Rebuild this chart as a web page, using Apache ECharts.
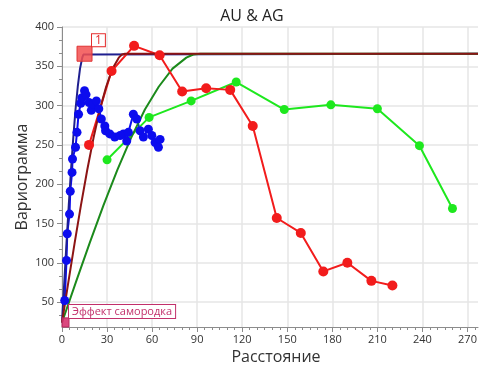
<!DOCTYPE html>
<html>
<head>
<meta charset="utf-8">
<script src="https://cdn.jsdelivr.net/npm/echarts@6/dist/echarts.min.js"></script>
<style>
  html, body { margin: 0; padding: 0; background: #fff; }
  #chart { width: 480px; height: 370px; }
</style>
</head>
<body>
<div id="chart"></div>
<script>
// Axis tick values
const xMajorTicks = [0, 30, 60, 90, 120, 150, 180, 210, 240, 270];
const xMinorTicks = [5, 10, 15, 20, 25, 35, 40, 45, 50, 55, 65, 70, 75, 80, 85, 95, 100, 105, 110, 115,
  125, 130, 135, 140, 145, 155, 160, 165, 170, 175, 185, 190, 195, 200, 205, 215, 220, 225, 230, 235,
  245, 250, 255, 260, 265, 275];
const yMajorTicks = [50, 100, 150, 200, 250, 300, 350, 400];
const yMinorTicks = [33.3, 66.7, 83.3, 116.7, 133.3, 166.7, 183.3, 216.7, 233.3, 266.7, 283.3,
  316.7, 333.3, 366.7, 383.3];

// Experimental variograms [lag, gamma]
const blueExperimental = [
  [1.8, 52], [3, 103], [3.5, 137], [5, 162], [5.5, 191], [6.7, 215], [7, 232], [9, 247], [10, 266],
  [11, 289], [12.5, 303], [13.3, 310], [15, 319], [16, 314], [18, 304], [19.5, 294], [20.7, 302],
  [22.9, 306], [24.5, 296], [26.2, 283], [28.5, 274], [29, 268], [31.8, 264], [35.1, 260],
  [38.7, 262], [40.9, 264], [43.1, 255], [44.2, 266], [47.5, 289], [49.8, 283], [52, 268],
  [54.2, 260], [57.5, 270], [59.8, 262], [62, 253], [64.2, 247], [65.3, 257]
];
const greenExperimental = [
  [30, 231], [58, 285], [86, 306], [116, 330], [148, 295], [179, 301], [210, 296], [238, 249], [260, 169]
];
const redExperimental = [
  [18, 250], [33, 344], [48, 376], [65, 364], [80, 318], [96, 322], [112, 320], [127, 274],
  [143, 157], [159, 138], [174, 89], [190, 100], [206, 77], [220, 71]
];

// Fitted models [lag, gamma]
const navyModel = [
  [0, 24], [1.5, 75], [3, 125], [4.5, 173], [6, 218], [7.5, 259], [9, 295], [10.5, 324],
  [12, 347], [13.5, 361], [14.25, 365], [15, 366], [277, 366]
];
const darkRedModel = [
  [0, 24], [4.2, 75], [8.4, 125], [12.6, 173], [16.8, 218], [21, 259], [25.2, 295], [29.4, 324],
  [33.6, 347], [37.8, 361], [39.9, 365], [42, 366], [277, 366]
];
const darkGreenModel = [
  [0, 24], [9.2, 75], [18.4, 125], [27.6, 173], [36.8, 218], [46, 259], [55.2, 295], [64.4, 324],
  [73.6, 347], [82.8, 361], [87.4, 365], [92, 366], [277, 366]
];

// Annotated points: nugget effect and range of model 1
const markerPoints = [[0, 21], [15, 366]];
const markerLabels = ['Эффект самородка', '1'];

const FONT = '"Open Sans", "Noto Sans", sans-serif';
const axisGrey = '#8c8c8c';
const gridGrey = '#e6e6e6';

const markerStyles = [
  { size: 14, fill: 'rgba(214,52,112,0.9)', stroke: '#b42a5e', text: '#c2306b', border: '#c2306b', fontSize: 11, padding: [1, 3] },
  { size: 15, fill: 'rgba(242,80,80,0.85)', stroke: '#e03434', text: '#e52b2b', border: '#e52b2b', fontSize: 12, padding: [0, 3] }
];

const chart = echarts.init(document.getElementById('chart'), null, { renderer: 'canvas' });

function lineSeries(data, color, withSymbols, size) {
  return {
    type: 'line',
    data: data,
    xAxisIndex: 0,
    yAxisIndex: 0,
    showSymbol: withSymbols,
    symbol: 'circle',
    symbolSize: size || 9,
    itemStyle: { color: color },
    lineStyle: { color: color, width: 2 },
    emphasis: { disabled: true },
    animation: false
  };
}

chart.setOption({
  animation: false,
  graphic: [{
    type: 'text',
    x: 252,
    y: 16,
    style: { text: 'AU & AG', font: '16px ' + FONT, fill: '#222', align: 'center', verticalAlign: 'middle' }
  }],
  grid: { left: 62, right: 2, top: 27, bottom: 42, containLabel: false },
  xAxis: [{
    type: 'value', min: 0, max: 277,
    name: 'Расстояние', nameLocation: 'middle', nameGap: 22, nameMoveOverlap: false,
    nameTextStyle: { fontSize: 16, color: '#333', fontFamily: FONT, padding: [0, 0, 0, 12] },
    axisLine: { show: true, onZero: false, lineStyle: { color: axisGrey, width: 1 } },
    axisTick: { show: true, customValues: xMajorTicks, length: 5, lineStyle: { color: axisGrey } },
    axisLabel: { customValues: xMajorTicks, color: '#333', fontSize: 11, fontFamily: FONT, margin: 7 },
    splitLine: { show: true, lineStyle: { color: gridGrey, width: 1.5 } }
  }, {
    type: 'value', min: 0, max: 277, position: 'bottom',
    axisLine: { show: false },
    axisTick: { show: true, customValues: xMinorTicks, length: 3, lineStyle: { color: axisGrey } },
    axisLabel: { show: false },
    splitLine: { show: false }
  }],
  yAxis: [{
    type: 'value', min: 18.3, max: 400,
    name: 'Вариограмма', nameLocation: 'middle', nameGap: 32, nameMoveOverlap: false,
    nameTextStyle: { fontSize: 16, color: '#333', fontFamily: FONT },
    axisLine: { show: true, onZero: false, lineStyle: { color: axisGrey, width: 1 } },
    axisTick: { show: true, customValues: yMajorTicks, length: 5, lineStyle: { color: axisGrey } },
    axisLabel: { customValues: yMajorTicks, color: '#333', fontSize: 11, fontFamily: FONT, margin: 8 },
    splitLine: { show: true, lineStyle: { color: gridGrey, width: 1.5 } }
  }, {
    type: 'value', min: 18.3, max: 400, position: 'left',
    axisLine: { show: false },
    axisTick: { show: true, customValues: yMinorTicks, length: 3, lineStyle: { color: axisGrey } },
    axisLabel: { show: false },
    splitLine: { show: false }
  }],
  series: [
    lineSeries(blueExperimental, '#0c0cee', true, 9),
    lineSeries(navyModel, '#1f1f8f', false),
    lineSeries(greenExperimental, '#1ee81e', true, 9),
    lineSeries(darkGreenModel, '#1b8a1b', false),
    lineSeries(redExperimental, '#f21c1c', true, 10),
    lineSeries(darkRedModel, '#8c1414', false),
    {
      type: 'custom',
      xAxisIndex: 0,
      yAxisIndex: 0,
      data: markerPoints,
      z: 10,
      animation: false,
      renderItem: function (params, api) {
        const i = params.dataIndex;
        const st = markerStyles[i];
        const p = api.coord([api.value(0), api.value(1)]);
        const cs = params.coordSys;
        const half = st.size / 2;
        const box = echarts.graphic.clipRectByRect(
          { x: p[0] - half, y: p[1] - half, width: st.size, height: st.size },
          { x: cs.x, y: cs.y, width: cs.width, height: cs.height }
        );
        const children = [];
        if (box) {
          children.push({
            type: 'rect',
            shape: box,
            style: { fill: st.fill, stroke: st.stroke, lineWidth: 1 }
          });
        }
        children.push({
          type: 'text',
          x: p[0] + half,
          y: p[1] - half,
          style: {
            text: markerLabels[i],
            font: st.fontSize + 'px ' + FONT,
            fill: st.text,
            align: 'left',
            verticalAlign: 'bottom',
            backgroundColor: '#fff',
            borderColor: st.border,
            borderWidth: 1,
            padding: st.padding
          }
        });
        return { type: 'group', children: children };
      }
    }
  ]
});
</script>
</body>
</html>
